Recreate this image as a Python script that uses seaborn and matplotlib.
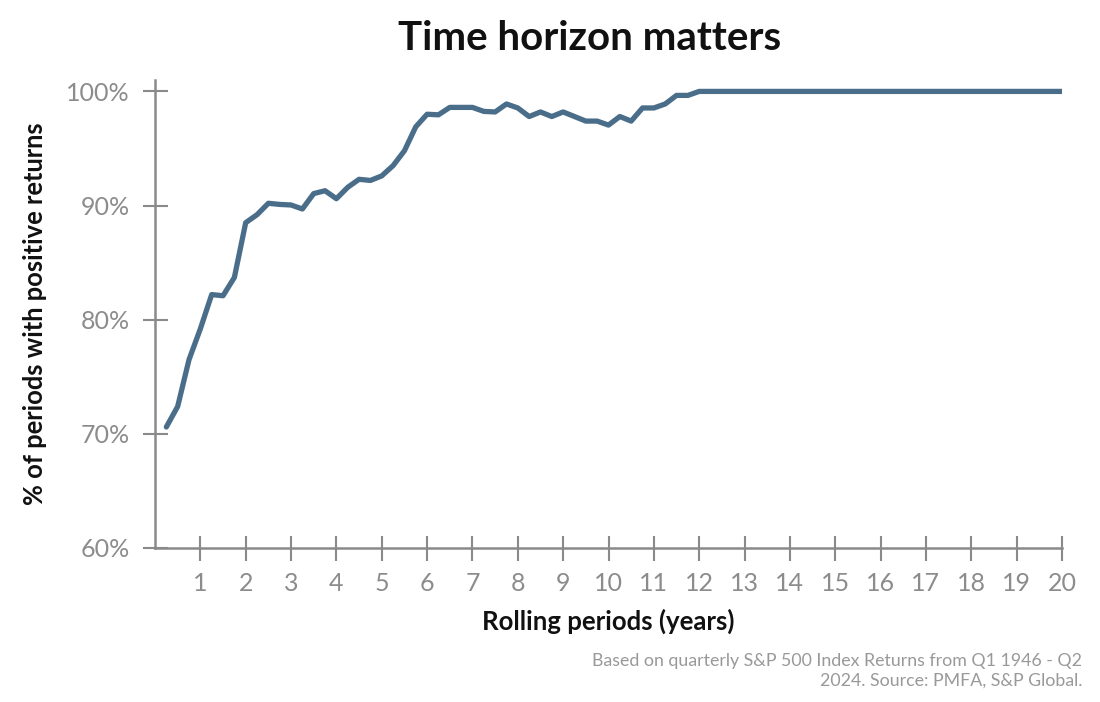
import matplotlib
matplotlib.use("Agg")
import matplotlib.pyplot as plt
import numpy as np
import pandas as pd
import seaborn as sns

# Rolling period length in years (quarterly steps) and share of positive periods (%)
years = [
    0.25, 0.5, 0.75, 1.0, 1.25, 1.5, 1.75, 2.0, 2.25, 2.5, 2.75, 3.0, 3.25, 3.5, 3.75, 4.0,
    4.25, 4.5, 4.75, 5.0, 5.25, 5.5, 5.75, 6.0, 6.25, 6.5, 6.75, 7.0, 7.25, 7.5, 7.75, 8.0,
    8.25, 8.5, 8.75, 9.0, 9.25, 9.5, 9.75, 10.0, 10.25, 10.5, 10.75, 11.0, 11.25, 11.5, 11.75, 12.0,
    12.25, 12.5, 12.75, 13.0, 13.25, 13.5, 13.75, 14.0, 14.25, 14.5, 14.75, 15.0, 15.25, 15.5, 15.75, 16.0,
    16.25, 16.5, 16.75, 17.0, 17.25, 17.5, 17.75, 18.0, 18.25, 18.5, 18.75, 19.0, 19.25, 19.5, 19.75, 20.0,
]
pct_positive = [
    70.6, 72.4, 76.5, 79.2, 82.2, 82.1, 83.7, 88.5, 89.2, 90.2, 90.1, 90.05, 89.7, 91.05, 91.3, 90.6,
    91.6, 92.3, 92.2, 92.6, 93.5, 94.8, 96.9, 98.0, 97.95, 98.6, 98.6, 98.6, 98.25, 98.2, 98.9, 98.55,
    97.8, 98.2, 97.8, 98.2, 97.8, 97.4, 97.4, 97.05, 97.8, 97.4, 98.55, 98.55, 98.9, 99.65, 99.65, 100.0,
    100.0, 100.0, 100.0, 100.0, 100.0, 100.0, 100.0, 100.0, 100.0, 100.0, 100.0, 100.0, 100.0, 100.0, 100.0, 100.0,
    100.0, 100.0, 100.0, 100.0, 100.0, 100.0, 100.0, 100.0, 100.0, 100.0, 100.0, 100.0, 100.0, 100.0, 100.0, 100.0,
]
x_ticks = list(range(1, 21))
y_ticks = [60, 70, 80, 90, 100]
y_tick_labels = ["60%", "70%", "80%", "90%", "100%"]

df = pd.DataFrame({"years": years, "pct": pct_positive})

sns.set_style("white")
plt.rcParams["font.family"] = ["Lato", "DejaVu Sans"]

line_color = "#4a6e8a"
axis_color = "#8a8a8a"

fig = plt.figure(figsize=(11, 7.02), dpi=100)
ax = fig.add_axes([155 / 1100, (702 - 548) / 702, (1062 - 155) / 1100, (548 - 80) / 702])

sns.lineplot(data=df, x="years", y="pct", ax=ax, color=line_color, linewidth=3.8)

ax.set_xlim(0, 20)
ax.set_ylim(60, 101)
ax.set_xticks(x_ticks)
ax.set_xticklabels([str(t) for t in x_ticks])
ax.set_yticks(y_ticks)
ax.set_yticklabels(y_tick_labels)

for side in ["top", "right"]:
    ax.spines[side].set_visible(False)
for side in ["left", "bottom"]:
    ax.spines[side].set_color(axis_color)
    ax.spines[side].set_linewidth(1.8)

ax.tick_params(axis="both", bottom=True, left=True, direction="inout", length=18, width=1.5,
               color=axis_color, labelcolor="#8c8c8c", labelsize=18)
ax.tick_params(axis="x", pad=8)
ax.tick_params(axis="y", pad=9)

ax.set_xlabel("Rolling periods (years)", fontsize=18.5, fontweight="bold", color="#111111", labelpad=10)
ax.set_ylabel("% of periods with positive returns", fontsize=18.4, fontweight="bold", color="#111111", labelpad=14)

fig.text(0.536, 0.945, "Time horizon matters", ha="center", va="center",
         fontsize=29, fontweight="bold", color="#111111")
fig.text(0.984, 0.044, "Based on quarterly S&P 500 Index Returns from Q1 1946 - Q2\n2024. Source: PMFA, S&P Global.",
         ha="right", va="center", fontsize=12.8, color="#999999", linespacing=1.3)

plt.savefig("out.png", dpi=100)
